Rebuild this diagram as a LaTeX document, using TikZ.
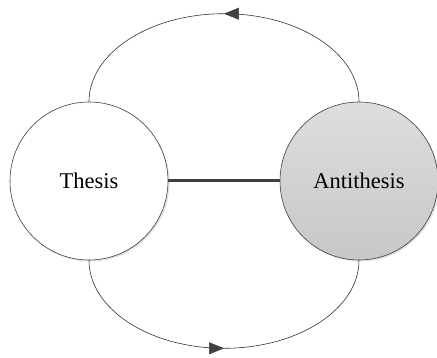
\documentclass[tikz,border=0pt]{standalone}
\usepackage{fontspec}
\setmainfont{Liberation Serif}
\usetikzlibrary{arrows.meta,decorations.markings,shadows}
\begin{document}
\begin{tikzpicture}[x=1pt,y=-1pt,
  blob/.style={circle,draw=black!75,line width=0.6pt,minimum size=158pt,inner sep=0pt,
    font=\fontsize{22.5}{26}\selectfont,
    drop shadow={shadow xshift=1.5pt,shadow yshift=-1.5pt,fill=black!12,opacity=1}},
  conn/.style={draw=black!80,line width=0.6pt,postaction={decorate},
    decoration={markings,mark=at position 0.5 with {\arrow{Triangle[length=15pt,width=12pt,fill=black!75,color=black!75]}}}},
  link/.style={draw=black!75,line width=3pt}]
\useasboundingbox (0,0) rectangle (437,358);
\node[blob,fill=white] (T) at (89,181) {Thesis};
\node[blob,top color=black!13,bottom color=black!22] (A) at (359,181) {Antithesis};
\draw[link] (T.east) -- (A.west);
\draw[conn] (A.north) arc[start angle=0,end angle=-180,x radius=135,y radius=88];
\draw[conn] (T.south) arc[start angle=180,end angle=0,x radius=135,y radius=88];
\end{tikzpicture}
\end{document}
